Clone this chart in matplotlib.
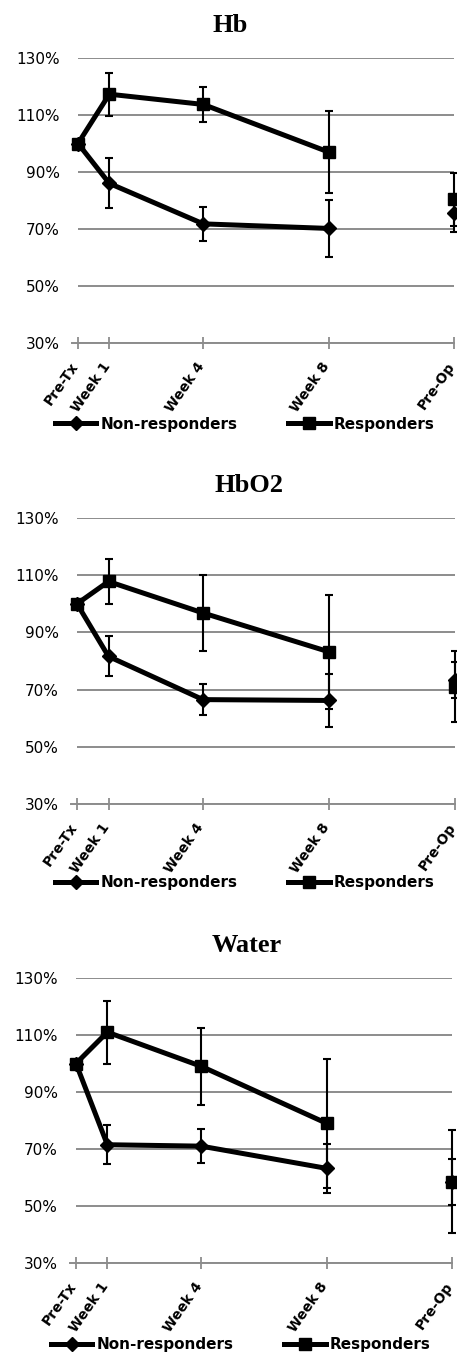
import numpy as np
import matplotlib.pyplot as plt
from matplotlib.lines import Line2D
from matplotlib.transforms import ScaledTranslation

# time points (Pre-Op sits at the right end of the axis, not joined by the line)
time_labels = ['Pre-Tx', 'Week 1', 'Week 4', 'Week 8', 'Pre-Op']
time_pos = [0, 1, 4, 8, 12]

hb_nonresp = [100, 86.0, 71.8, 70.2, 75.5]
hb_nonresp_err = [0, 8.8, 5.9, 10.0, 6.4]
hb_resp = [100, 117.3, 113.7, 97.0, 80.5]
hb_resp_err = [0, 7.5, 6.1, 14.4, 9.3]

hbo2_nonresp = [100, 81.6, 66.5, 66.2, 73.5]
hbo2_nonresp_err = [0, 7.0, 5.4, 9.3, 6.3]
hbo2_resp = [100, 107.8, 96.8, 83.2, 71.0]
hbo2_resp_err = [0, 7.9, 13.3, 20.0, 12.4]

water_nonresp = [100, 71.5, 71.0, 63.2, 58.5]
water_nonresp_err = [0, 6.8, 6.0, 8.6, 8.1]
water_resp = [100, 111.0, 99.0, 79.0, 58.5]
water_resp_err = [0, 11.0, 13.5, 22.7, 18.0]

y_ticks = [30, 50, 70, 90, 110, 130]

W, H = 457, 1353
GRID = '#8c8c8c'

fig = plt.figure(figsize=(W / 100, H / 100), dpi=100)
plt.rcParams['font.family'] = 'DejaVu Sans'


def px_axes(left, top, right, bottom):
    """Add an axes given its box in pixels (origin at top-left)."""
    return fig.add_axes([left / W, 1 - bottom / H, (right - left) / W, (bottom - top) / H])


def draw_series(ax, vals, errs, marker, ms):
    # line joins the treatment weeks only
    ax.plot(time_pos[:4], vals[:4], color='black', lw=3.6, marker=marker, ms=ms,
            clip_on=False, zorder=3)
    ax.plot(time_pos[4:], vals[4:], color='black', lw=0, marker=marker, ms=ms,
            clip_on=False, zorder=3)
    ax.errorbar(time_pos, vals, yerr=errs, fmt='none', ecolor='black', elinewidth=1.5,
                capsize=2.6, capthick=1.5, clip_on=False, zorder=4)


def make_panel(box, title, title_xy, legend_xy, nonresp, nonresp_err, resp, resp_err):
    ax = px_axes(*box)
    draw_series(ax, nonresp, nonresp_err, 'D', 7.4)
    draw_series(ax, resp, resp_err, 's', 9)

    ax.set_xlim(0, 12)
    ax.set_ylim(30, 130)
    ax.set_yticks(y_ticks)
    ax.set_yticklabels([f'{v}%' for v in y_ticks], fontsize=11)
    ax.tick_params(axis='y', length=0, pad=13)
    ax.yaxis.grid(True, color=GRID, lw=1.4)
    ax.set_axisbelow(True)

    ax.set_xticks(time_pos)
    ax.set_xticklabels(time_labels, fontsize=10, fontweight='bold')
    ax.tick_params(axis='x', direction='inout', length=8, width=1.3, color=GRID, pad=11)
    shift = ScaledTranslation(-2 / 100, 0, fig.dpi_scale_trans)
    for lab in ax.get_xticklabels():
        lab.set_rotation(55)
        lab.set_rotation_mode('anchor')
        lab.set_ha('right')
        lab.set_va('center')
        lab.set_transform(lab.get_transform() + shift)

    for side in ['top', 'right', 'left']:
        ax.spines[side].set_visible(False)
    ax.spines['bottom'].set_color(GRID)
    ax.spines['bottom'].set_linewidth(1.4)
    ax.spines['bottom'].set_bounds(-0.18, 12)

    fig.text(title_xy[0] / W, 1 - title_xy[1] / H, title, ha='center', va='baseline',
             family='Liberation Serif', weight='bold', fontsize=19)

    handles = [Line2D([], [], color='black', lw=3.6, marker='D', ms=7.4),
               Line2D([], [], color='black', lw=3.6, marker='s', ms=9)]
    fig.legend(handles, ['Non-responders', 'Responders'], loc='center',
               bbox_to_anchor=(legend_xy[0] / W, 1 - legend_xy[1] / H), ncol=2,
               frameon=False, prop={'weight': 'bold', 'size': 11},
               handlelength=2.7, handletextpad=0.3, columnspacing=3.3, borderpad=0)
    return ax


make_panel((78, 58, 454, 343), 'Hb', (230, 32), (245, 424),
           hb_nonresp, hb_nonresp_err, hb_resp, hb_resp_err)
make_panel((77, 518, 455, 804), 'HbO2', (249, 492), (245, 883),
           hbo2_nonresp, hbo2_nonresp_err, hbo2_resp, hbo2_resp_err)
make_panel((76, 978, 452, 1263), 'Water', (247, 952), (241, 1345),
           water_nonresp, water_nonresp_err, water_resp, water_resp_err)

fig.savefig('out.png', dpi=100, facecolor='white')
